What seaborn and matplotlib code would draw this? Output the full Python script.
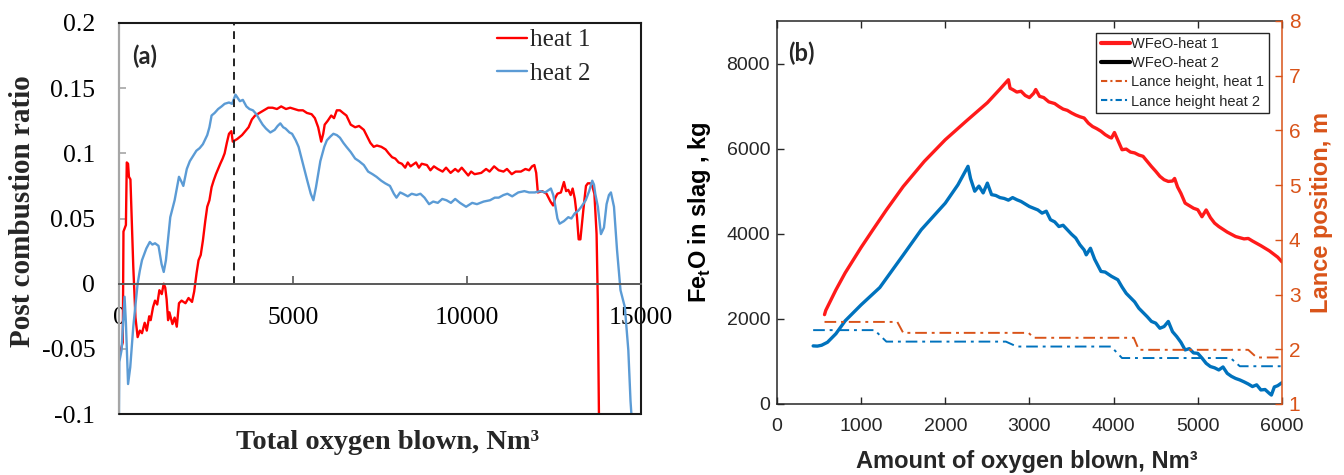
import matplotlib
matplotlib.use("Agg")
import matplotlib.pyplot as plt
from matplotlib.lines import Line2D
import numpy as np
import pandas as pd
import seaborn as sns

# ---------------- data: panel (a) ----------------
heat1_pairs = [
    (40, -0.052), (110, -0.045), (130, 0.04), (200, 0.045), (225, 0.093), (262, 0.092), (287, 0.082),
    (330, 0.08), (362, 0.054), (412, 0.013), (475, -0.026), (537, -0.041), (600, -0.036), (662, -0.038),
    (740, -0.03), (800, -0.036), (870, -0.025), (912, -0.028), (980, -0.018), (1037, -0.013), (1100, -0.016),
    (1162, -0.005), (1230, -0.008), (1287, 0.0), (1330, -0.003), (1370, -0.012), (1412, -0.028), (1450, -0.022),
    (1537, -0.031), (1600, -0.026), (1662, -0.033), (1725, -0.015), (1800, -0.013), (1912, -0.015),
    (2000, -0.011), (2100, -0.014), (2162, -0.006), (2230, 0.008), (2287, 0.018), (2350, 0.022), (2412, 0.033),
    (2480, 0.048), (2537, 0.059), (2600, 0.064), (2662, 0.074), (2720, 0.079), (2787, 0.084), (2850, 0.088),
    (2912, 0.092), (2980, 0.096), (3037, 0.1), (3100, 0.108), (3162, 0.115), (3230, 0.117), (3270, 0.109),
    (3400, 0.111), (3537, 0.114), (3630, 0.117), (3725, 0.12), (3820, 0.126), (3912, 0.129), (4040, 0.131),
    (4162, 0.133), (4290, 0.135), (4412, 0.135), (4540, 0.134), (4662, 0.136), (4800, 0.134), (4920, 0.135),
    (5037, 0.134), (5160, 0.133), (5287, 0.133), (5400, 0.131), (5537, 0.13), (5630, 0.127), (5725, 0.12),
    (5812, 0.109), (5870, 0.115), (5912, 0.122), (6000, 0.125), (6100, 0.129), (6180, 0.127), (6260, 0.133),
    (6350, 0.133), (6440, 0.131), (6537, 0.129), (6660, 0.122), (6787, 0.12), (6900, 0.121), (7037, 0.118),
    (7130, 0.113), (7225, 0.108), (7320, 0.105), (7412, 0.106), (7540, 0.105), (7662, 0.103), (7750, 0.1),
    (7850, 0.097), (7940, 0.096), (8037, 0.093), (8130, 0.092), (8225, 0.089), (8300, 0.093), (8380, 0.09),
    (8537, 0.093), (8620, 0.089), (8700, 0.092), (8850, 0.091), (8950, 0.087), (9050, 0.09), (9162, 0.088),
    (9300, 0.086), (9400, 0.089), (9530, 0.085), (9662, 0.088), (9750, 0.086), (9850, 0.089), (10037, 0.083),
    (10120, 0.086), (10220, 0.084), (10412, 0.085), (10550, 0.088), (10650, 0.086), (10780, 0.09),
    (10912, 0.087), (11050, 0.086), (11150, 0.088), (11287, 0.084), (11400, 0.086), (11550, 0.086),
    (11680, 0.088), (11787, 0.087), (11870, 0.09), (11937, 0.091), (11990, 0.085), (12037, 0.07),
    (12160, 0.071), (12287, 0.069), (12400, 0.063), (12475, 0.06), (12540, 0.066), (12600, 0.069),
    (12700, 0.07), (12787, 0.078), (12850, 0.071), (12912, 0.072), (12980, 0.068), (13037, 0.073),
    (13100, 0.065), (13162, 0.051), (13210, 0.034), (13260, 0.034), (13300, 0.045), (13350, 0.058),
    (13420, 0.075), (13475, 0.077), (13540, 0.077), (13600, 0.075), (13662, 0.069), (13725, 0.038),
    (13760, -0.013), (13790, -0.1), (13800, -0.12),
]
heat2_pairs = [
    (0, -0.1), (10, -0.06), (75, -0.051), (162, -0.01), (200, -0.03), (262, -0.077), (325, -0.064),
    (412, -0.033), (537, 0.0), (600, 0.01), (662, 0.018), (787, 0.027), (887, 0.032), (960, 0.03),
    (1037, 0.031), (1137, 0.029), (1225, 0.015), (1287, 0.009), (1350, 0.018), (1475, 0.051), (1600, 0.064),
    (1725, 0.082), (1800, 0.078), (1850, 0.075), (1950, 0.088), (2037, 0.094), (2130, 0.098), (2225, 0.102),
    (2320, 0.104), (2412, 0.107), (2537, 0.114), (2600, 0.12), (2662, 0.129), (2750, 0.131), (2850, 0.134),
    (2950, 0.136), (3037, 0.138), (3162, 0.139), (3250, 0.138), (3350, 0.145), (3475, 0.14), (3560, 0.141),
    (3662, 0.136), (3750, 0.134), (3850, 0.133), (3950, 0.13), (4037, 0.126), (4130, 0.122), (4225, 0.119),
    (4350, 0.116), (4475, 0.118), (4560, 0.121), (4637, 0.123), (4720, 0.12), (4787, 0.119), (4900, 0.116),
    (4975, 0.115), (5080, 0.11), (5162, 0.105), (5287, 0.092), (5412, 0.079), (5512, 0.069), (5587, 0.064),
    (5662, 0.074), (5787, 0.094), (5900, 0.105), (5975, 0.11), (6080, 0.113), (6162, 0.115), (6260, 0.114),
    (6350, 0.112), (6450, 0.108), (6537, 0.105), (6660, 0.101), (6787, 0.096), (6900, 0.094), (7037, 0.091),
    (7160, 0.086), (7287, 0.084), (7400, 0.082), (7537, 0.079), (7650, 0.077), (7787, 0.075), (7900, 0.069),
    (7975, 0.066), (8080, 0.07), (8162, 0.069), (8300, 0.067), (8412, 0.069), (8550, 0.068), (8662, 0.069),
    (8780, 0.066), (8912, 0.061), (9030, 0.063), (9162, 0.062), (9290, 0.065), (9412, 0.064), (9540, 0.062),
    (9662, 0.065), (9800, 0.062), (9975, 0.059), (10150, 0.062), (10287, 0.061), (10480, 0.063),
    (10662, 0.064), (10800, 0.066), (10912, 0.066), (11050, 0.068), (11162, 0.069), (11300, 0.067),
    (11475, 0.07), (11650, 0.071), (11787, 0.07), (11950, 0.07), (12100, 0.071), (12250, 0.07),
    (12412, 0.073), (12480, 0.068), (12537, 0.06), (12600, 0.05), (12662, 0.046), (12787, 0.048),
    (12912, 0.051), (13000, 0.05), (13100, 0.054), (13200, 0.056), (13287, 0.059), (13412, 0.064),
    (13512, 0.071), (13600, 0.079), (13650, 0.076), (13687, 0.069), (13762, 0.059), (13850, 0.038),
    (13937, 0.043), (14012, 0.061), (14080, 0.068), (14137, 0.07), (14225, 0.059), (14312, 0.026),
    (14412, -0.005), (14537, -0.018), (14637, -0.051), (14700, -0.09), (14725, -0.1), (14740, -0.12),
]
heat1_x = [p[0] for p in heat1_pairs]
heat1_y = [p[1] for p in heat1_pairs]
heat2_x = [p[0] for p in heat2_pairs]
heat2_y = [p[1] for p in heat2_pairs]
marker_line_x = 3300          # dashed vertical reference line
a_xticks = [0, 5000, 10000, 15000]
a_xticklabels = ["0", "5000", "10000", "15000"]
a_yticks = [-0.1, -0.05, 0, 0.05, 0.1, 0.15, 0.2]
a_yticklabels = ["-0.1", "-0.05", "0", "0.05", "0.1", "0.15", "0.2"]
a_legend = ["heat 1", "heat 2"]

# ---------------- data: panel (b) ----------------
feo1_x = [565, 580, 700, 810, 1000, 1140, 1300, 1500, 1750, 2000, 2250, 2500, 2650, 2750, 2770, 2800, 2850,
          2900, 2950, 3000, 3050, 3075, 3120, 3170, 3230, 3300, 3350, 3400, 3450, 3500, 3550, 3600, 3650,
          3700, 3750, 3800, 3850, 3900, 3950, 3975, 4010, 4050, 4100, 4150, 4200, 4250, 4300, 4350, 4400,
          4450, 4500, 4550, 4600, 4650, 4700, 4725, 4760, 4800, 4850, 4900, 4950, 5000, 5050, 5100, 5150,
          5200, 5250, 5350, 5450, 5550, 5600, 5650, 5750, 5850, 5950, 6000]
feo1_y = [2100, 2200, 2680, 3080, 3680, 4094, 4560, 5110, 5700, 6210, 6650, 7080, 7400, 7620, 7420, 7390, 7330,
          7350, 7250, 7200, 7300, 7390, 7230, 7200, 7100, 7060, 6990, 6930, 6900, 6840, 6790, 6750, 6720,
          6600, 6520, 6470, 6410, 6330, 6270, 6250, 6380, 6200, 5975, 5990, 5920, 5900, 5850, 5820, 5700,
          5580, 5470, 5350, 5270, 5230, 5240, 5300, 5100, 4950, 4720, 4660, 4600, 4565, 4400, 4560, 4380,
          4250, 4170, 4040, 3935, 3880, 3890, 3830, 3720, 3600, 3450, 3340]
feo2_x = [430, 480, 530, 600, 700, 810, 1000, 1222, 1500, 1714, 2000, 2150, 2270, 2300, 2350, 2400, 2450, 2500,
          2550, 2600, 2650, 2700, 2750, 2800, 2850, 2900, 2950, 3000, 3050, 3100, 3150, 3200, 3250, 3300,
          3350, 3400, 3450, 3500, 3550, 3600, 3650, 3675, 3725, 3775, 3850, 3900, 3975, 4050, 4100, 4150,
          4200, 4250, 4300, 4350, 4400, 4450, 4500, 4550, 4600, 4650, 4700, 4750, 4800, 4850, 4900, 4950,
          5000, 5050, 5100, 5150, 5200, 5250, 5300, 5350, 5400, 5450, 5500, 5550, 5600, 5650, 5700, 5750,
          5800, 5850, 5875, 5910, 5950, 6000]
feo2_y = [1365, 1360, 1380, 1450, 1650, 1953, 2330, 2737, 3500, 4094, 4720, 5150, 5585, 5300, 5000, 5120, 4960,
          5190, 4920, 4900, 4850, 4830, 4790, 4850, 4800, 4760, 4700, 4640, 4600, 4560, 4485, 4530, 4330,
          4280, 4170, 4200, 4095, 3990, 3900, 3740, 3620, 3505, 3660, 3400, 3115, 3100, 3000, 2920, 2750,
          2600, 2500, 2400, 2250, 2150, 2050, 1940, 1900, 1780, 1820, 1940, 1700, 1585, 1450, 1270, 1300,
          1200, 1190, 1080, 955, 880, 850, 800, 870, 720, 650, 600, 565, 520, 470, 410, 450, 330, 340, 250,
          210, 400, 430, 500]
lance1_x = [565, 1430, 1500, 2990, 3050, 4240, 4300, 5600, 5700, 6000]
lance1_y = [2.50, 2.50, 2.30, 2.30, 2.21, 2.21, 1.99, 1.99, 1.85, 1.85]
lance2_x = [430, 1160, 1300, 2720, 2850, 3970, 4100, 5390, 5500, 6000]
lance2_y = [2.35, 2.35, 2.14, 2.14, 2.05, 2.05, 1.84, 1.84, 1.69, 1.69]
b_xticks = [0, 1000, 2000, 3000, 4000, 5000, 6000]
b_yticks = [0, 2000, 4000, 6000, 8000]
b_y2ticks = [1, 2, 3, 4, 5, 6, 7, 8]
b_legend = ["WFeO-heat 1", "WFeO-heat 2", "Lance height, heat 1", "Lance height heat 2"]

# ---------------- styling ----------------
sns.set_theme(style="white")
plt.rcParams["font.family"] = ["Liberation Sans", "DejaVu Sans"]
plt.rcParams["mathtext.fontset"] = "custom"
plt.rcParams["mathtext.rm"] = "Liberation Sans"
plt.rcParams["mathtext.bf"] = "Liberation Sans:bold"

SERIF = ["Liberation Serif", "DejaVu Serif"]
SANS = ["Liberation Sans", "DejaVu Sans"]
RED = "#FF0000"
LBLUE = "#5B9BD5"
MRED = "#FF1A1A"
MBLUE = "#0072BD"
ORANGE = "#D95319"
MGRAY = "#262626"

fig = plt.figure(figsize=(13.44, 4.75), dpi=100)

# ================= panel (a) =================
ax1 = fig.add_axes([0.0885, 0.1284, 0.3884, 0.8232])
a_xlim = (0, 15000)
a_ylim = (-0.1, 0.2)
sns.lineplot(x=heat1_x, y=heat1_y, ax=ax1, color=RED, linewidth=1.7, sort=False, estimator=None)
sns.lineplot(x=heat2_x, y=heat2_y, ax=ax1, color=LBLUE, linewidth=1.7, sort=False, estimator=None)
ax1.axvline(marker_line_x, ymin=(0 - a_ylim[0]) / (a_ylim[1] - a_ylim[0]), ymax=1,
            color="#222222", linestyle=(0, (4, 3)), linewidth=1.4)
ax1.set_xlim(*a_xlim)
ax1.set_ylim(*a_ylim)
ax1.spines["bottom"].set_position(("data", 0))
ax1.spines["bottom"].set_color("#595959")
ax1.spines["bottom"].set_linewidth(1.4)
ax1.spines["left"].set_color("#A6A6A6")
ax1.spines["left"].set_linewidth(1.6)
for s in ("top", "right"):
    ax1.spines[s].set_color("#1a1a1a")
    ax1.spines[s].set_linewidth(1.5)
ax1.axhline(a_ylim[0], color="#1a1a1a", linewidth=1.5, clip_on=False, zorder=5)
ax1.set_xticks(a_xticks)
ax1.set_xticklabels(a_xticklabels, fontfamily=SERIF, fontsize=18.5, color="black")
ax1.set_yticks(a_yticks)
ax1.set_yticklabels(a_yticklabels, fontfamily=SERIF, fontsize=18.5, color="black")
ax1.tick_params(axis="x", direction="in", length=6, width=1.2, color="#595959", pad=17, bottom=True)
ax1.tick_params(axis="y", direction="in", length=5, width=1.2, color="#A6A6A6", pad=17, left=True)
ax1.set_xlabel("Total oxygen blown, Nm³", fontfamily=SERIF, fontsize=20.5, fontweight="bold", va="center")
ax1.xaxis.set_label_coords(0.515, -0.074)
ax1.set_ylabel("Post combustion ratio", fontfamily=SERIF, fontsize=21, fontweight="bold", va="center")
ax1.yaxis.set_label_coords(-0.184, 0.519)
ax1.text(0.025, 0.915, "(a)", transform=ax1.transAxes, fontfamily=["Lato", "DejaVu Sans"],
         fontsize=17, fontweight="bold", va="center", ha="left")
h_a = [Line2D([], [], color=RED, lw=1.7), Line2D([], [], color=LBLUE, lw=1.7)]
leg1 = ax1.legend(h_a, a_legend, loc="upper left", bbox_to_anchor=(0.725, 0.985), frameon=False,
                  prop={"family": SERIF, "size": 18}, handlelength=1.2, handletextpad=0.1,
                  labelspacing=0.45, borderaxespad=0, borderpad=0)

# ================= panel (b) =================
ax2 = fig.add_axes([0.5781, 0.1495, 0.3757, 0.8063])
sns.lineplot(x=feo1_x, y=feo1_y, ax=ax2, color=MRED, linewidth=2.4, sort=False, estimator=None)
sns.lineplot(x=feo2_x, y=feo2_y, ax=ax2, color=MBLUE, linewidth=2.4, sort=False, estimator=None)
ax2.set_xlim(0, 6000)
ax2.set_ylim(0, 9000)
ax2.set_xticks(b_xticks)
ax2.set_yticks(b_yticks)
ax2.set_xticklabels([str(v) for v in b_xticks], fontsize=14, color=MGRAY)
ax2.set_yticklabels([str(v) for v in b_yticks], fontsize=14, color=MGRAY)
for s in ("left", "top", "bottom"):
    ax2.spines[s].set_color(MGRAY)
    ax2.spines[s].set_linewidth(1.1)
ax2.spines["right"].set_visible(False)
ax2.tick_params(axis="x", direction="in", length=5, width=1, color=MGRAY, top=True, bottom=True, pad=10)
ax2.tick_params(axis="y", direction="in", length=5, width=1, color=MGRAY, left=True, right=False, pad=5)
ax2.set_xlabel("Amount of oxygen blown, Nm³", fontsize=17, fontweight="bold", color=MGRAY, va="center")
ax2.xaxis.set_label_coords(0.495, -0.151)
ax2.set_ylabel(r"Fe$_{\mathbf{t}}$O in slag , kg", fontsize=17, fontweight="bold", color="black", va="center")
ax2.yaxis.set_label_coords(-0.154, 0.50)
ax2.text(0.022, 0.915, "(b)", transform=ax2.transAxes, fontfamily=["Lato", "DejaVu Sans"],
         fontsize=17, fontweight="bold", va="center", ha="left")

ax3 = ax2.twinx()
sns.lineplot(x=lance1_x, y=lance1_y, ax=ax3, color=ORANGE, linewidth=1.4, sort=False, estimator=None,
             linestyle=(0, (6, 2.5, 1.5, 2.5)))
sns.lineplot(x=lance2_x, y=lance2_y, ax=ax3, color=MBLUE, linewidth=1.4, sort=False, estimator=None,
             linestyle=(0, (6, 2.5, 1.5, 2.5)))
ax3.set_ylim(1, 8)
ax3.set_yticks(b_y2ticks)
ax3.set_yticklabels([str(v) for v in b_y2ticks], fontsize=15, color=ORANGE)
ax3.grid(False)
for s in ("left", "top", "bottom"):
    ax3.spines[s].set_visible(False)
ax3.spines["right"].set_color(ORANGE)
ax3.spines["right"].set_linewidth(1.1)
ax3.tick_params(axis="y", direction="in", length=5, width=1, color=ORANGE, right=True, left=False, pad=5)
ax3.set_ylabel("Lance position, m", fontsize=17, fontweight="bold", color=ORANGE, va="center", rotation=90)
ax3.yaxis.set_label_coords(1.079, 0.50)

h_b = [Line2D([], [], color=MRED, lw=3.0), Line2D([], [], color="black", lw=3.0),
       Line2D([], [], color=ORANGE, lw=1.5, linestyle=(0, (3, 1.5, 1, 1.5))),
       Line2D([], [], color=MBLUE, lw=1.5, linestyle=(0, (3, 1.5, 1, 1.5)))]
leg2 = ax3.legend(h_b, b_legend, loc="upper right", bbox_to_anchor=(0.974, 0.969), frameon=True,
                  fancybox=False, edgecolor=MGRAY, framealpha=1, prop={"family": SANS, "size": 10.5},
                  handlelength=2.0, handletextpad=0.1, labelspacing=0.35, borderaxespad=0,
                  borderpad=0.3)
leg2.get_frame().set_linewidth(1.0)

fig.savefig("out.png", dpi=100)
